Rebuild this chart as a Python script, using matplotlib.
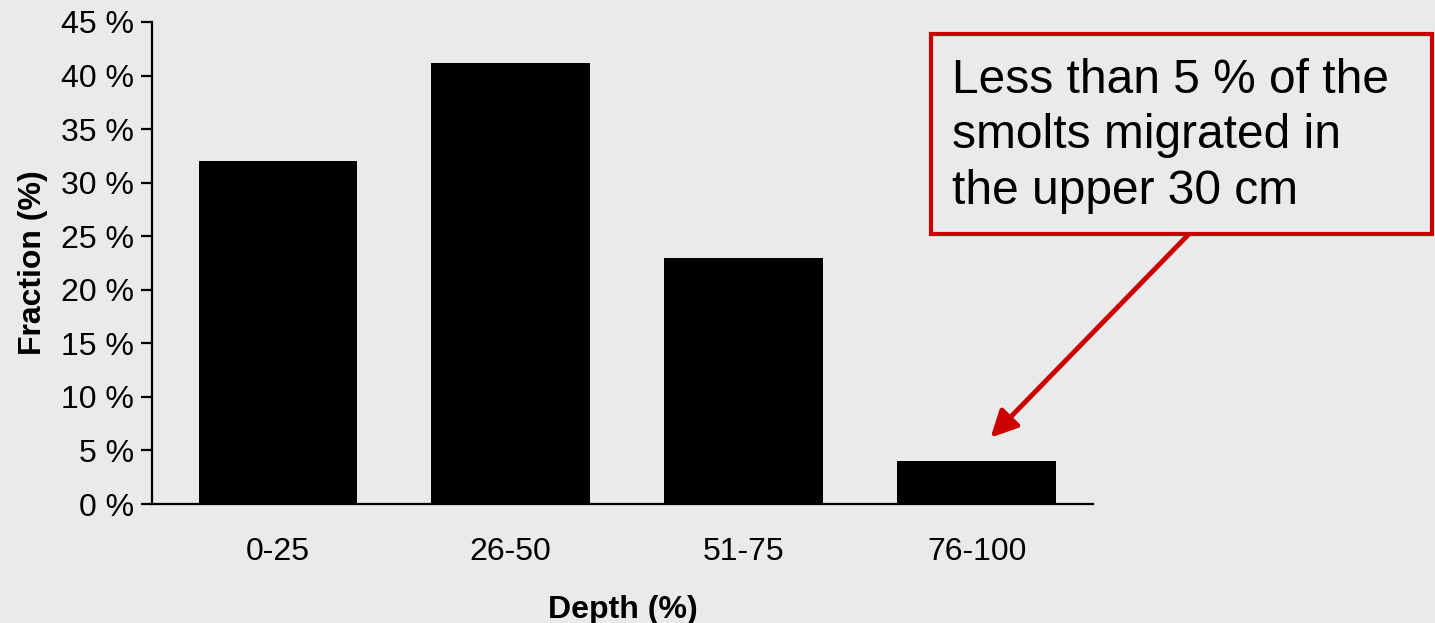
import matplotlib.pyplot as plt
from matplotlib.patches import Rectangle
from matplotlib.ticker import FuncFormatter, MultipleLocator

# ---------- Data ----------
depth_bins = ["0-25", "26-50", "51-75", "76-100"]
fraction_pct = [32, 41.2, 23, 4]

note_text = "Less than 5 % of the\nsmolts migrated in\nthe upper 30 cm"

plt.rcParams["font.family"] = ["Liberation Sans", "DejaVu Sans"]
bg = "#eaeaea"
red = "#cc0000"

fig = plt.figure(figsize=(14.35, 6.23), dpi=100, facecolor=bg)
ax = fig.add_axes([0.1059, 0.191, 0.6558, 0.7737])
ax.set_facecolor(bg)

x = range(len(depth_bins))
ax.bar(x, fraction_pct, width=0.68, color="black")

ax.set_xlim(-0.54, 3.5)
ax.set_ylim(0, 45)
ax.set_xticks(list(x))
ax.set_xticklabels(depth_bins)
ax.yaxis.set_major_locator(MultipleLocator(5))
ax.yaxis.set_major_formatter(FuncFormatter(lambda v, p: f"{v:.0f} %"))

for s in ["top", "right"]:
    ax.spines[s].set_visible(False)
for s in ["left", "bottom"]:
    ax.spines[s].set_linewidth(1.6)

ax.tick_params(axis="x", length=0, pad=24, labelsize=23)
ax.tick_params(axis="y", length=8, width=1.6, direction="out", pad=5, labelsize=23)

ax.set_ylabel("Fraction (%)", fontsize=23, fontweight="bold", labelpad=9)
ax.set_xlabel("Depth (%)", fontsize=23, fontweight="bold", labelpad=20)

# ---------- Annotation box ----------
W, H = 1435, 623
box = Rectangle((931 / W, 1 - 234 / H), 501 / W, 200 / H,
                transform=fig.transFigure, facecolor=bg,
                edgecolor=red, linewidth=3, zorder=5)
fig.patches.append(box)
fig.text(952 / W, 1 - 58 / H, note_text, fontsize=34.5, va="top", ha="left",
         linespacing=1.3, zorder=6)

ax.annotate("", xy=(3.06, 6.2), xycoords="data",
            xytext=(1188 / W, 1 - 235 / H), textcoords="figure fraction",
            arrowprops=dict(arrowstyle="-|>,head_length=1.6,head_width=0.8",
                            color=red, lw=3.5, shrinkA=0, shrinkB=0),
            annotation_clip=False)

fig.savefig("out.png", dpi=100, facecolor=bg)
